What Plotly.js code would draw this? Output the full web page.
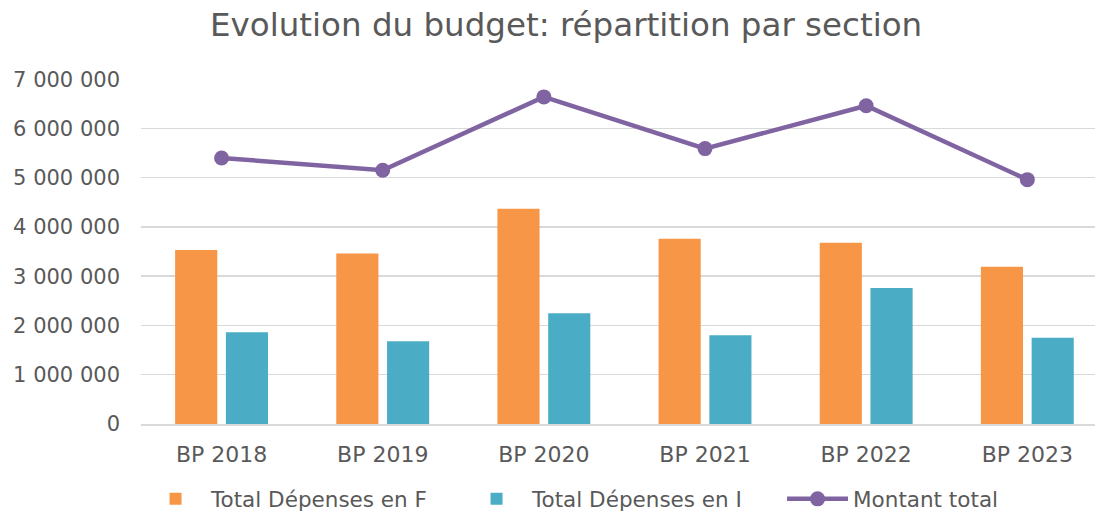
<!DOCTYPE html>
<html>
<head>
<meta charset="utf-8">
<script src="https://cdn.plot.ly/plotly-3.0.1.min.js"></script>
<style>html,body{margin:0;padding:0;background:#fff;}#chart{width:1095px;height:515px;}</style>
</head>
<body>
<div id="chart"></div>
<script>
const categories = ["BP 2018", "BP 2019", "BP 2020", "BP 2021", "BP 2022", "BP 2023"];
const depensesF = [3530000, 3460000, 4370000, 3760000, 3680000, 3190000];
const depensesI = [1860000, 1680000, 2250000, 1800000, 2760000, 1750000];
const montantTotal = [5400000, 5150000, 6640000, 5590000, 6460000, 4960000];
const yTicks = [0, 1000000, 2000000, 3000000, 4000000, 5000000, 6000000, 7000000];

const FONT = "DejaVu Sans, Liberation Sans, Arial, sans-serif";
const GREY = "#595959";

const traces = [
  {type: "bar", name: "Total Dépenses en F", x: categories, y: depensesF,
   marker: {color: "#F79646"}, hoverinfo: "y"},
  {type: "bar", name: "Total Dépenses en I", x: categories, y: depensesI,
   marker: {color: "#4BACC6"}, hoverinfo: "y"},
  {type: "scatter", mode: "lines+markers", name: "Montant total", x: categories, y: montantTotal,
   line: {color: "#8064A2", width: 4.5}, marker: {color: "#8064A2", size: 15}, hoverinfo: "y"}
];

const layout = {
  width: 1095, height: 515,
  paper_bgcolor: "#ffffff", plot_bgcolor: "#ffffff",
  font: {family: FONT, color: GREY, size: 20},
  separators: ", ",
  margin: {l: 141, r: 0, t: 79, b: 91, pad: 0, autoexpand: false},
  title: {text: "Evolution du budget: répartition par section",
          font: {family: FONT, size: 32.5, color: GREY},
          xref: "container", x: 0.517, xanchor: "center",
          yref: "container", y: 0.952, yanchor: "middle"},
  barmode: "group", bargap: 0.37, bargroupgap: 0.17,
  xaxis: {type: "category", range: [-0.5, 5.42], showgrid: false,
          showline: true, linecolor: "#d9d9d9", linewidth: 1.5,
          ticks: "", ticklabelstandoff: 10,
          tickfont: {family: FONT, size: 22, color: GREY},
          fixedrange: true},
  yaxis: {range: [0, 7003000], tickvals: yTicks, tickformat: ",d",
          showgrid: true, gridcolor: "#d9d9d9", gridwidth: 1.5,
          zeroline: false, showline: false, ticks: "",
          ticklabelstandoff: 20,
          tickfont: {family: FONT, size: 21, color: GREY}, fixedrange: true},
  showlegend: true,
  legend: {orientation: "h", xref: "paper", x: -0.001, xanchor: "left",
           yref: "paper", y: -0.217, yanchor: "middle",
           font: {family: FONT, size: 21.5, color: GREY},
           entrywidth: 245, entrywidthmode: "pixels", itemwidth: 61,
           traceorder: "normal", bgcolor: "rgba(0,0,0,0)"}
};

Plotly.newPlot("chart", traces, layout, {displayModeBar: false, staticPlot: true});
</script>
</body>
</html>
